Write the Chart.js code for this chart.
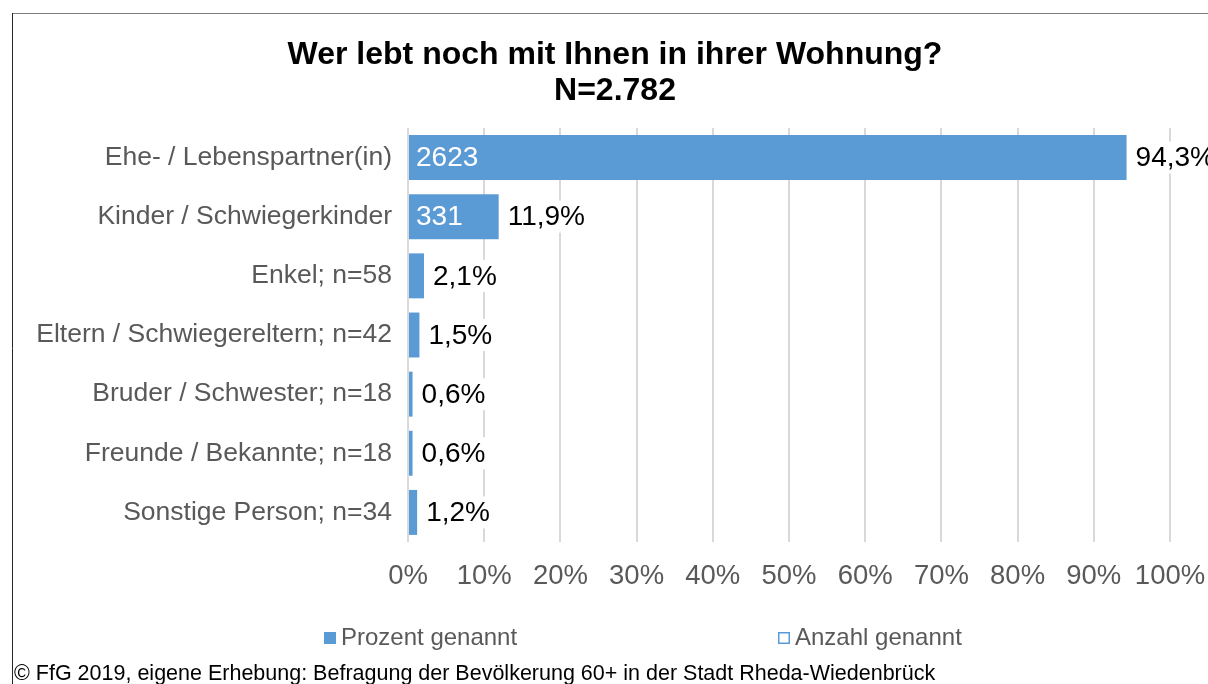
<!DOCTYPE html>
<html lang="de">
<head>
<meta charset="utf-8">
<title>Wer lebt noch mit Ihnen in ihrer Wohnung?</title>
<script src="https://cdn.jsdelivr.net/npm/chart.js@4"></script>
<style>
    html, body { margin: 0; padding: 0; background: #fff; }
    #wrap { position: relative; width: 1208px; height: 684px; }
</style>
</head>
<body>
<div id="wrap"><canvas id="chart" width="1208" height="684"></canvas></div>
<script>
// ===== Data =====
const categories = [
    'Ehe- / Lebenspartner(in)',
    'Kinder / Schwiegerkinder',
    'Enkel; n=58',
    'Eltern / Schwiegereltern; n=42',
    'Bruder / Schwester; n=18',
    'Freunde / Bekannte; n=18',
    'Sonstige Person; n=34'
];
const percentNamed = [94.3, 11.9, 2.1, 1.5, 0.6, 0.6, 1.2];
const countNamed = [2623, 331, 58, 42, 18, 18, 34];
const titleLines = ['Wer lebt noch mit Ihnen in ihrer Wohnung?', 'N=2.782'];
const footerText = '© FfG 2019, eigene Erhebung: Befragung der Bevölkerung 60+ in der Stadt Rheda-Wiedenbrück';

const FONT = "'Liberation Sans', Arial, sans-serif";
const BLUE = '#5b9bd5';
const GREY_TEXT = '#595959';

const fmtPct = v => v.toFixed(1).replace('.', ',') + '%';

// ===== Frame, title, legend, footer and value labels =====
const decorations = {
    id: 'decorations',
    beforeDraw(chart) {
        const c = chart.ctx;
        c.save();
        c.fillStyle = '#fff';
        c.fillRect(0, 0, chart.width, chart.height);
        c.lineWidth = 1;
        c.strokeStyle = '#7f7f7f';
        c.beginPath();
        c.moveTo(12, 13.5);
        c.lineTo(chart.width, 13.5);
        c.stroke();
        c.strokeStyle = '#262626';
        c.beginPath();
        c.moveTo(12.5, 13);
        c.lineTo(12.5, chart.height);
        c.stroke();
        c.restore();
    },
    afterDraw(chart) {
        const c = chart.ctx;
        c.save();

        // title
        c.fillStyle = '#000';
        c.font = 'bold 32px ' + FONT;
        c.textAlign = 'center';
        c.textBaseline = 'middle';
        titleLines.forEach((t, i) => c.fillText(t, 615, 55 + i * 36));

        // value labels (percent on white box, count inside bar)
        const meta = chart.getDatasetMeta(0);
        c.font = '28px ' + FONT;
        meta.data.forEach((bar, i) => {
            c.textAlign = 'left';
            const pct = fmtPct(percentNamed[i]);
            const pw = c.measureText(pct).width;
            c.fillStyle = '#fff';
            c.fillRect(bar.x + 6, bar.y - 16, pw + 6, 32);
            c.fillStyle = '#000';
            c.fillText(pct, bar.x + 9, bar.y + 1);
            const txt = String(countNamed[i]);
            const w = c.measureText(txt).width;
            if (bar.x - bar.base > w + 20) {
                c.fillStyle = '#fff';
                c.fillText(txt, bar.base + 7, bar.y + 1);
            }
        });

        // legend
        const items = [
            { ds: chart.data.datasets[0], x: 324, filled: true },
            { ds: chart.data.datasets[1], x: 778, filled: false }
        ];
        c.font = '24px ' + FONT;
        c.textBaseline = 'middle';
        items.forEach(it => {
            if (it.filled) {
                c.fillStyle = it.ds.backgroundColor;
                c.fillRect(it.x, 632, 12, 12);
            } else {
                c.strokeStyle = it.ds.borderColor;
                c.lineWidth = 1.5;
                c.strokeRect(it.x + 0.75, 632.75, 10.5, 10.5);
            }
            c.fillStyle = GREY_TEXT;
            c.textAlign = 'left';
            c.fillText(it.ds.label, it.x + 17, 638);
        });

        // footer
        c.fillStyle = '#000';
        c.font = '21.5px ' + FONT;
        c.fillText(footerText, 14, 674);
        c.restore();
    }
};

new Chart(document.getElementById('chart'), {
    type: 'bar',
    data: {
        labels: categories,
        datasets: [
            {
                label: 'Prozent genannt',
                data: percentNamed,
                backgroundColor: BLUE,
                borderWidth: 0,
                categoryPercentage: 1,
                barPercentage: 0.76
            },
            {
                label: 'Anzahl genannt',
                data: countNamed,
                hidden: true,
                backgroundColor: 'rgba(0,0,0,0)',
                borderColor: BLUE
            }
        ]
    },
    options: {
        indexAxis: 'y',
        responsive: false,
        animation: false,
        layout: { padding: { left: 12, right: 38, top: 128, bottom: 92 } },
        plugins: {
            legend: { display: false },
            title: { display: false },
            tooltip: { enabled: false }
        },
        scales: {
            x: {
                min: 0,
                max: 100,
                ticks: {
                    stepSize: 10,
                    callback: v => v + '%',
                    color: GREY_TEXT,
                    font: { family: FONT, size: 27.5 },
                    padding: 18,
                    maxRotation: 0
                },
                grid: { color: '#d9d9d9', lineWidth: 2, drawTicks: false },
                border: { display: false },
                afterFit: s => { s.height = 50; s.paddingLeft = 0; s.paddingRight = 0; }
            },
            y: {
                ticks: {
                    color: GREY_TEXT,
                    font: { family: FONT, size: 26.5 },
                    padding: 16
                },
                grid: { display: false, drawTicks: false },
                border: { display: false },
                afterFit: s => { s.width = 396; }
            }
        }
    },
    plugins: [decorations]
});
</script>
</body>
</html>
